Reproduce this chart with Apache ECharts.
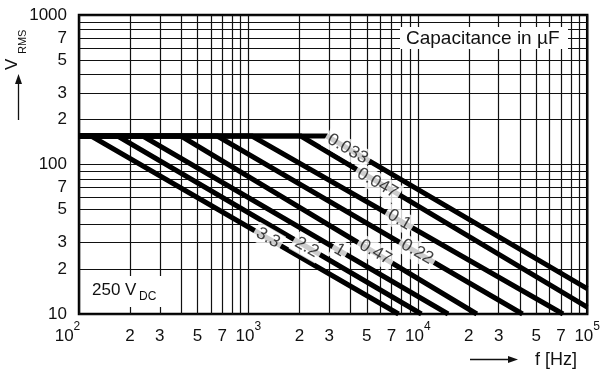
<!DOCTYPE html>
<html>
<head>
<meta charset="utf-8">
<script src="https://cdn.jsdelivr.net/npm/echarts@6/dist/echarts.min.js"></script>
<style>html,body{margin:0;padding:0;background:#fff}#c{width:603px;height:372px}</style>
</head>
<body>
<div id="c"></div>
<script>
// ---- data ----
const capacitances = ['0.033', '0.047', '0.1', '0.22', '0.47', '1', '2.2', '3.3'];
const flatVoltage = 155;          // V_RMS plateau
const startFreq = 100;            // Hz
const kneeFreq = [2900, 2040, 1050, 655, 400, 238, 169, 118];
const endFreq = [100000, 100000, 72000, 41500, 22300, 15100, 10500, 7700];
const endVoltage = [14.8, 11.1, 10, 10, 10, 10, 10, 10];
const labelFreq = [3850, 5780, 7780, 9920, 5620, 3455, 2210, 1305];
const labelVoltage = [127, 75, 42.7, 26.1, 25.9, 26.7, 27.9, 32.3];

const xGridValues = [100,200,300,400,500,600,700,800,900,1000,2000,3000,4000,5000,6000,7000,8000,9000,10000,20000,30000,40000,50000,60000,70000,80000,90000,100000];
const xLabelValues = [100,200,300,500,700,1000,2000,3000,5000,7000,10000,20000,30000,50000,70000,100000];
const yGridValues = [10,20,30,40,50,60,70,80,90,100,200,300,400,500,600,700,800,900,1000];
const yLabelValues = [10,20,30,50,70,100,200,300,500,700,1000];

const FONT = "'Liberation Sans', Arial, Helvetica, sans-serif";
const INK = '#111';

function isPow10(v) {
  const e = Math.round(Math.log10(v));
  return Math.abs(v - Math.pow(10, e)) < 1e-6 * v;
}
function leadDigit(v) {
  const e = Math.floor(Math.log10(v) + 1e-9);
  return Math.round(v / Math.pow(10, e));
}

const chart = echarts.init(document.getElementById('c'), null, {renderer: 'canvas'});

const lineSeries = capacitances.map((c, i) => ({
  name: c,
  type: 'line',
  data: [[startFreq, flatVoltage], [kneeFreq[i], flatVoltage], [endFreq[i], endVoltage[i]]],
  symbol: 'none',
  silent: true,
  z: 3,
  lineStyle: {color: '#000', width: 5, cap: 'butt', join: 'miter'}
}));

const labelSeries = {
  type: 'scatter',
  data: capacitances.map((c, i) => [labelFreq[i], labelVoltage[i], c]),
  symbolSize: 1,
  itemStyle: {color: 'rgba(0,0,0,0)'},
  silent: true,
  z: 10,
  label: {
    show: true,
    position: 'inside',
    rotate: -30,
    formatter: p => p.data[2],
    fontSize: 17.5,
    fontFamily: FONT,
    color: INK,
    backgroundColor: '#fff',
    padding: [1, 3, 1, 3]
  }
};

const option = {
  animation: false,
  backgroundColor: '#fff',
  grid: {left: 79, right: 13, top: 15, bottom: 58, show: true, borderColor: '#000', borderWidth: 2.5, backgroundColor: 'transparent'},
  xAxis: {
    type: 'log', logBase: 10, min: 100, max: 100000,
    axisLine: {show: false},
    axisTick: {show: false, customValues: xGridValues},
    splitLine: {show: true, lineStyle: {color: INK, width: 1.2}},
    axisLabel: {
      customValues: xLabelValues,
      margin: 7,
      formatter: v => {
        if (isPow10(v)) {
          const e = Math.round(Math.log10(v));
          return e === 2 ? '{b|10}{sl|2}' : '{b|10}{s|' + e + '}';
        }
        return '{b|' + leadDigit(v) + '}';
      },
      rich: {
        b: {fontSize: 17, lineHeight: 24, verticalAlign: 'bottom', fontFamily: FONT, color: INK},
        s: {fontSize: 12, lineHeight: 12, verticalAlign: 'top', fontFamily: FONT, color: INK},
        sl: {fontSize: 12, lineHeight: 12, verticalAlign: 'top', fontFamily: FONT, color: INK, padding: [0, 23, 0, 0]}
      }
    }
  },
  yAxis: {
    type: 'log', logBase: 10, min: 10, max: 1000,
    axisLine: {show: false},
    axisTick: {show: false, customValues: yGridValues},
    splitLine: {show: true, lineStyle: {color: INK, width: 1.2}},
    axisLabel: {
      customValues: yLabelValues,
      margin: 12,
      fontSize: 17,
      fontFamily: FONT,
      color: INK,
      formatter: v => isPow10(v) ? String(Math.round(v)) : String(leadDigit(v))
    }
  },
  graphic: [
    // Capacitance box
    {type: 'rect', z: 100, shape: {x: 400, y: 27, width: 168, height: 22}, style: {fill: '#fff'}},
    {type: 'text', z: 101, x: 406, y: 38.5, style: {text: 'Capacitance in µF', font: '19px ' + FONT, fill: INK, textVerticalAlign: 'middle', textAlign: 'left'}},
    // 250 VDC box
    {type: 'rect', z: 100, shape: {x: 84, y: 276, width: 80, height: 31}, style: {fill: '#fff'}},
    {type: 'text', z: 101, x: 92, y: 290, style: {text: '250 V', font: '17px ' + FONT, fill: INK, textVerticalAlign: 'middle', textAlign: 'left'}},
    {type: 'text', z: 101, x: 139, y: 297, style: {text: 'DC', font: '12px ' + FONT, fill: INK, textVerticalAlign: 'middle', textAlign: 'left'}},
    // V_RMS (rotated)
    {type: 'text', z: 101, x: 12.5, y: 70, rotation: Math.PI / 2, style: {text: 'V', font: '17px ' + FONT, fill: INK, textVerticalAlign: 'middle', textAlign: 'left'}},
    {type: 'text', z: 101, x: 22.5, y: 54, rotation: Math.PI / 2, style: {text: 'RMS', font: '11px ' + FONT, fill: INK, textVerticalAlign: 'middle', textAlign: 'left'}},
    // up arrow
    {type: 'line', z: 101, shape: {x1: 18.5, y1: 120, x2: 18.5, y2: 80}, style: {stroke: INK, lineWidth: 1.3}},
    {type: 'polygon', z: 101, shape: {points: [[18.5, 74], [15, 84], [22, 84]]}, style: {fill: INK}},
    // right arrow + f [Hz]
    {type: 'line', z: 101, shape: {x1: 470, y1: 359.5, x2: 511, y2: 359.5}, style: {stroke: INK, lineWidth: 1.3}},
    {type: 'polygon', z: 101, shape: {points: [[518, 359.5], [508, 356], [508, 363]]}, style: {fill: INK}},
    {type: 'text', z: 101, x: 535, y: 360, style: {text: 'f [Hz]', font: '18px ' + FONT, fill: INK, textVerticalAlign: 'middle', textAlign: 'left'}}
  ],
  series: [...lineSeries, labelSeries]
};
chart.setOption(option);
</script>
</body>
</html>
